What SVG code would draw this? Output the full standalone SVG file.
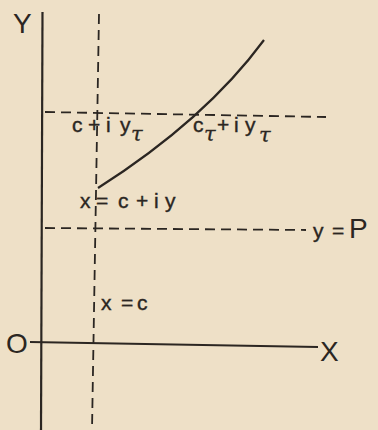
<svg xmlns="http://www.w3.org/2000/svg" width="378" height="430" viewBox="0 0 378 430">
<style>
.ax{stroke:#2b2622;stroke-width:2.2;fill:none}
.ds{stroke:#2b2622;stroke-width:1.8;fill:none;stroke-dasharray:10 6}
.t{font-family:"Liberation Sans",Arial,sans-serif;fill:#2b2622;stroke:#2b2622;stroke-width:0.4;font-size:21px}
.T{font-family:"Liberation Sans",Arial,sans-serif;fill:#2b2622;font-size:28px}
.s{font-family:"DejaVu Serif",serif;fill:#2b2622;stroke:#2b2622;stroke-width:0.3;font-size:21px;font-style:italic}
</style>
<rect width="378" height="430" fill="#eee0c7"/>
<g id="connectors">
<line class="ax" x1="42.5" y1="12" x2="41" y2="430"/>
<line class="ax" x1="30" y1="342" x2="318" y2="347"/>
<line class="ds" x1="99" y1="14" x2="92" y2="430"/>
<line class="ds" x1="45" y1="112" x2="326" y2="117"/>
<line class="ds" x1="45" y1="228" x2="306" y2="230"/>
<path class="ax" d="M98,188 Q205,120 264,40"/>
</g>
<g id="axis-y"><text class="T" x="13" y="33">Y</text></g>
<g id="axis-x"><text class="T" x="320" y="361">X</text></g>
<g id="origin"><text class="T" x="6" y="353">O</text></g>
<g id="label-cy"><text class="t" x="72" y="132">c</text><text class="t" x="88" y="132">+</text><text class="t" x="106" y="132">i</text><text class="t" x="120" y="132">y</text><text class="s" x="131" y="141">τ</text></g>
<g id="label-ct"><text class="t" x="193" y="132">c</text><text class="s" x="204" y="141">τ</text><text class="t" x="217" y="132">+</text><text class="t" x="234" y="132">i</text><text class="t" x="245" y="132">y</text><text class="s" x="259" y="142">τ</text></g>
<g id="label-x"><text class="t" x="80" y="208">x</text><text class="t" x="96" y="208">=</text><text class="t" x="118" y="208">c</text><text class="t" x="136" y="208">+</text><text class="t" x="154" y="208">i</text><text class="t" x="165" y="208">y</text></g>
<g id="label-p"><text class="t" x="313" y="238">y</text><text class="t" x="332" y="238">=</text><text class="T" x="349" y="238">P</text></g>
<g id="label-c"><text class="t" x="101" y="310">x</text><text class="t" x="121" y="310">=</text><text class="t" x="137" y="310">c</text></g>
</svg>
